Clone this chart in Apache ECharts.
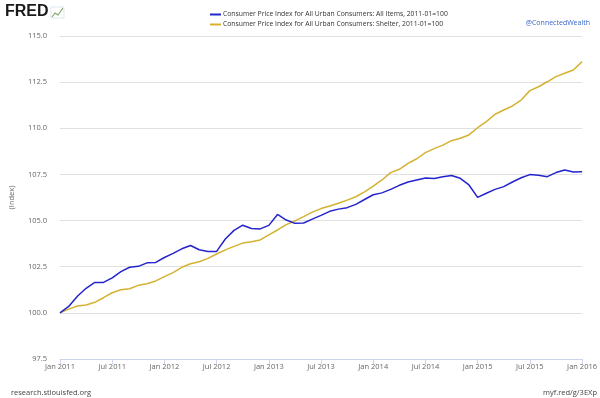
<!DOCTYPE html>
<html>
<head>
<meta charset="utf-8">
<script src="https://cdn.jsdelivr.net/npm/echarts@6/dist/echarts.min.js"></script>
<style>
html,body{margin:0;padding:0;background:#fff;}
#chart{width:600px;height:398px;}
</style>
</head>
<body>
<div id="chart"></div>
<script>
var months = [
 "Jan 2011","Feb 2011","Mar 2011","Apr 2011","May 2011","Jun 2011","Jul 2011","Aug 2011","Sep 2011","Oct 2011","Nov 2011","Dec 2011",
 "Jan 2012","Feb 2012","Mar 2012","Apr 2012","May 2012","Jun 2012","Jul 2012","Aug 2012","Sep 2012","Oct 2012","Nov 2012","Dec 2012",
 "Jan 2013","Feb 2013","Mar 2013","Apr 2013","May 2013","Jun 2013","Jul 2013","Aug 2013","Sep 2013","Oct 2013","Nov 2013","Dec 2013",
 "Jan 2014","Feb 2014","Mar 2014","Apr 2014","May 2014","Jun 2014","Jul 2014","Aug 2014","Sep 2014","Oct 2014","Nov 2014","Dec 2014",
 "Jan 2015","Feb 2015","Mar 2015","Apr 2015","May 2015","Jun 2015","Jul 2015","Aug 2015","Sep 2015","Oct 2015","Nov 2015","Dec 2015",
 "Jan 2016"
];
var allItems = [
 100.00,100.35,100.90,101.33,101.65,101.65,101.90,102.23,102.47,102.52,102.71,102.73,
 103.00,103.22,103.47,103.65,103.42,103.33,103.33,104.00,104.47,104.75,104.57,104.55,
 104.74,105.33,105.03,104.85,104.87,105.08,105.28,105.50,105.62,105.70,105.88,106.14,
 106.40,106.50,106.69,106.91,107.09,107.20,107.31,107.28,107.37,107.44,107.29,106.93,
 106.26,106.48,106.69,106.84,107.09,107.32,107.49,107.45,107.38,107.60,107.74,107.63,
 107.65
];
var shelter = [
 100.00,100.20,100.37,100.43,100.57,100.82,101.09,101.25,101.31,101.49,101.58,101.73,
 101.96,102.18,102.47,102.66,102.77,102.95,103.19,103.41,103.60,103.78,103.85,103.95,
 104.22,104.49,104.78,104.98,105.21,105.46,105.65,105.79,105.94,106.11,106.29,106.56,
 106.87,107.20,107.60,107.78,108.10,108.35,108.68,108.90,109.09,109.33,109.46,109.64,
 110.03,110.36,110.76,110.99,111.21,111.53,112.04,112.25,112.52,112.80,112.98,113.16,
 113.61
];
var seriesNames = [
 "Consumer Price Index for All Urban Consumers: All Items, 2011-01=100",
 "Consumer Price Index for All Urban Consumers: Shelter, 2011-01=100"
];
var yTicks = {min: 97.5, max: 115, interval: 2.5};

var FONT = "Open Sans";
var chart = echarts.init(document.getElementById('chart'), null, {renderer: 'canvas'});
chart.setOption({
  animation: false,
  backgroundColor: '#ffffff',
  textStyle: {fontFamily: FONT},
  grid: {left: 60, right: 16, top: 36, bottom: 39, containLabel: false},
  legend: {
    orient: 'vertical', left: 205, top: 5,
    itemWidth: 11, itemHeight: 2, itemGap: 1,
    icon: 'rect',
    textStyle: {fontFamily: FONT, fontSize: 6.8, color: '#333', lineHeight: 9, padding: [0,0,0,-3]},
    data: seriesNames
  },
  xAxis: {
    type: 'category', data: months, boundaryGap: false,
    axisLine: {lineStyle: {color: '#ccd6eb', width: 1}},
    axisTick: {show: true, interval: 5, length: 5, lineStyle: {color: '#ccd6eb'}},
    axisLabel: {interval: 5, fontSize: 7.5, color: '#666', margin: 4, fontFamily: FONT},
    splitLine: {show: false}
  },
  yAxis: {
    type: 'value', min: yTicks.min, max: yTicks.max, interval: yTicks.interval,
    name: '(Index)', nameLocation: 'middle', nameGap: 44, nameRotate: 90,
    nameTextStyle: {fontSize: 7.5, color: '#666', fontFamily: FONT},
    axisLine: {show: false}, axisTick: {show: false},
    axisLabel: {fontSize: 7.5, color: '#666', margin: 13, fontFamily: FONT,
      formatter: function(v){ return v.toFixed(1); }},
    splitLine: {lineStyle: {color: '#e0e0e0', width: 1}}
  },
  series: [
    {name: seriesNames[0], type: 'line', data: allItems, showSymbol: false, symbol: 'none',
     lineStyle: {color: '#2424cc', width: 1.5}, itemStyle: {color: '#2424cc'}, z: 3},
    {name: seriesNames[1], type: 'line', data: shelter, showSymbol: false, symbol: 'none',
     lineStyle: {color: '#d4b230', width: 1.5}, itemStyle: {color: '#d4b230'}, z: 2}
  ],
  graphic: [
    {type: 'text', left: 5, top: 4, style: {text: 'FRED', font: 'bold 16px "Liberation Sans", Arial, sans-serif', fill: '#1a1a1a'}},
    {type: 'polyline', shape: {points: [[52,17],[55,13],[58,15],[63,8]]}, style: {stroke: '#7fa86a', lineWidth: 1.2, fill: null}},
    {type: 'rect', shape: {x: 51, y: 7, width: 13, height: 11}, style: {stroke: '#c9d9e8', lineWidth: 0.6, fill: null}},
    {type: 'text', right: 10, top: 19, style: {text: '@ConnectedWealth', font: '7px "Open Sans"', fill: '#3a66cc'}},
    {type: 'text', left: 11, top: 389, style: {text: 'research.stlouisfed.org', font: '7.5px "Open Sans"', fill: '#444'}},
    {type: 'text', right: 3, top: 389, style: {text: 'myf.red/g/3EXp', font: '7.5px "Open Sans"', fill: '#444'}}
  ]
});
</script>
</body>
</html>
